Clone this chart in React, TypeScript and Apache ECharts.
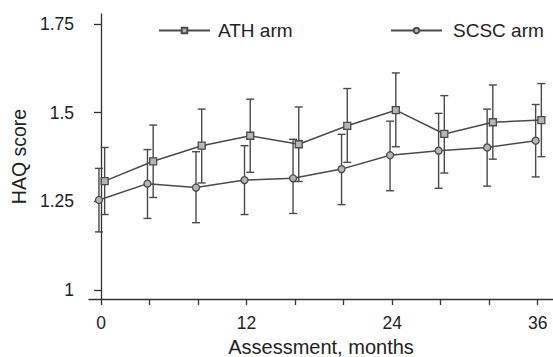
import React, { useEffect, useRef } from "react";
import * as echarts from "echarts";

const months = [0, 4, 8, 12, 16, 20, 24, 28, 32, 36];
const athMean = [1.307, 1.363, 1.407, 1.435, 1.411, 1.463, 1.507, 1.44, 1.473, 1.479];
const athLow = [1.213, 1.261, 1.302, 1.332, 1.306, 1.36, 1.404, 1.33, 1.369, 1.376];
const athHigh = [1.402, 1.465, 1.51, 1.538, 1.516, 1.568, 1.612, 1.548, 1.578, 1.582];
const scscMean = [1.254, 1.3, 1.289, 1.31, 1.315, 1.341, 1.38, 1.393, 1.402, 1.421];
const scscLow = [1.164, 1.202, 1.19, 1.213, 1.216, 1.241, 1.28, 1.287, 1.293, 1.319];
const scscHigh = [1.343, 1.396, 1.39, 1.407, 1.425, 1.439, 1.476, 1.498, 1.51, 1.523];
const xTicks = [0, 4, 8, 12, 16, 20, 24, 28, 32, 36];
const xLabels = [0, 12, 24, 36];
const yTicks = [1, 1.25, 1.5, 1.75];

const FONT = "'Liberation Sans', Arial, Helvetica, sans-serif";
const INK = "#4a4a4a";

const ATH_OFF = 0.3;
const SCSC_OFF = -0.17;

function errorSeries(name: string, off: number, low: number[], high: number[]) {
  return {
    type: "custom",
    name,
    z: 2,
    encode: { x: 0, y: [1, 2] },
    data: months.map((m, i) => [m + off, low[i], high[i]]),
    renderItem: (_p: any, api: any) => {
      const x = api.value(0);
      const a = api.coord([x, api.value(1)]);
      const b = api.coord([x, api.value(2)]);
      const hw = 4;
      const st = { stroke: INK, lineWidth: 1.4 };
      return {
        type: "group",
        children: [
          { type: "line", shape: { x1: a[0], y1: a[1], x2: b[0], y2: b[1] }, style: st },
          { type: "line", shape: { x1: a[0] - hw, y1: a[1], x2: a[0] + hw, y2: a[1] }, style: st },
          { type: "line", shape: { x1: b[0] - hw, y1: b[1], x2: b[0] + hw, y2: b[1] }, style: st },
        ],
      };
    },
  };
}

export default function App() {
  const ref = useRef<HTMLDivElement>(null);
  useEffect(() => {
    if (!ref.current) return;
    const chart = echarts.init(ref.current, undefined, { renderer: "svg" });
    const lineBase = {
      type: "line",
      z: 3,
      symbolSize: 7,
      lineStyle: { color: INK, width: 1.5 },
      itemStyle: { color: "#b5b5b5", borderColor: INK, borderWidth: 1.3 },
    };
    chart.setOption({
      animation: false,
      backgroundColor: "#ffffff",
      grid: { left: 89, right: 0, top: 14, bottom: 58, containLabel: false, outerBoundsMode: "none" },
      legend: [
        {
          data: ["ATH arm"],
          left: 153,
          top: 16,
          itemWidth: 51,
          itemHeight: 7,
          textStyle: { fontFamily: FONT, fontSize: 19, color: "#222", padding: [0, 0, 0, 3] },
        },
        {
          data: ["SCSC arm"],
          left: 385,
          top: 16,
          itemWidth: 51,
          itemHeight: 7,
          textStyle: { fontFamily: FONT, fontSize: 19, color: "#222", padding: [0, 0, 0, 6] },
        },
      ],
      xAxis: {
        type: "value",
        min: -0.99,
        max: 37.26,
        name: "Assessment, months",
        nameLocation: "middle",
        nameGap: 37,
        nameTextStyle: { fontFamily: FONT, fontSize: 20, color: "#222" },
        axisLine: { lineStyle: { color: "#333", width: 1.3 } },
        axisTick: { customValues: xTicks, length: 6, lineStyle: { color: "#333", width: 1.3 } },
        axisLabel: {
          customValues: xLabels,
          fontFamily: FONT,
          fontSize: 17.5,
          color: "#222",
          margin: 15,
        },
        splitLine: { show: false },
      },
      yAxis: {
        type: "value",
        min: 0.975,
        max: 1.778,
        name: "HAQ score",
        nameLocation: "middle",
        nameGap: 59,
        nameTextStyle: { fontFamily: FONT, fontSize: 19.5, color: "#222" },
        axisLine: { show: true, lineStyle: { color: "#333", width: 1.3 } },
        axisTick: { show: true, customValues: yTicks, length: 7, lineStyle: { color: "#333", width: 1.3 } },
        axisLabel: {
          customValues: yTicks,
          fontFamily: FONT,
          fontSize: 17.5,
          color: "#222",
          margin: 15,
          formatter: (v: number) => String(parseFloat(v.toFixed(2))),
        },
        splitLine: { show: false },
      },
      series: [
        errorSeries("ATH err", ATH_OFF, athLow, athHigh),
        errorSeries("SCSC err", SCSC_OFF, scscLow, scscHigh),
        {
          ...lineBase,
          name: "ATH arm",
          symbol: "rect",
          data: months.map((m, i) => [m + ATH_OFF, athMean[i]]),
        },
        {
          ...lineBase,
          name: "SCSC arm",
          symbol: "circle",
          data: months.map((m, i) => [m + SCSC_OFF, scscMean[i]]),
        },
      ],
    });
    return () => chart.dispose();
  }, []);
  return (
    <div
      ref={ref}
      style={{ position: "absolute", left: 0, top: 0, width: 553, height: 357 }}
    />
  );
}
